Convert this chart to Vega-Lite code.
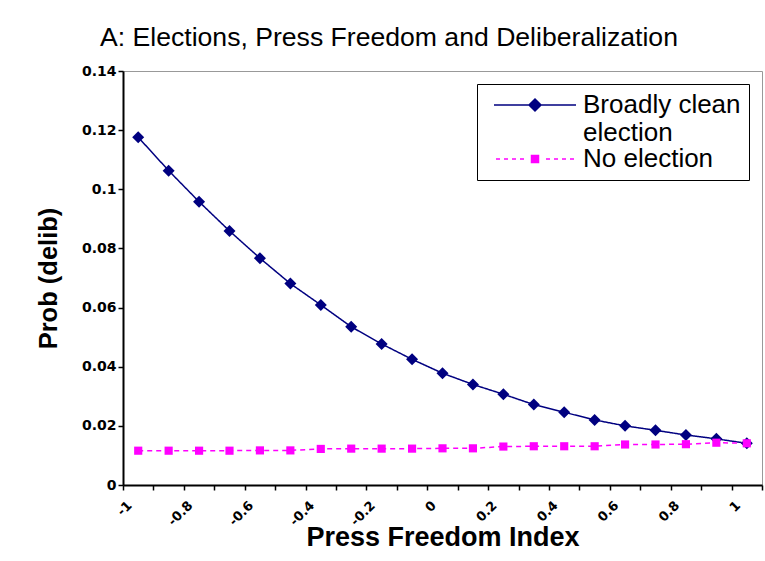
{
  "$schema": "https://vega.github.io/schema/vega-lite/v6.json",
  "width": 639,
  "height": 414,
  "autosize": {"type": "none"},
  "padding": {"left": 123, "top": 71, "right": 3, "bottom": 76},
  "background": "white",
  "config": {"view": {"stroke": "#999999", "strokeWidth": 1}},
  "title": {"text": "A: Elections, Press Freedom and Deliberalization", "anchor": "start", "frame": "group", "dx": -23, "offset": -9, "baseline": "alphabetic", "font": "Liberation Sans", "fontSize": 26.6, "fontWeight": "normal", "color": "black"},
  "data": {"values": [
    {"pf": -1, "series": "Broadly clean election", "prob": 0.1176},
    {"pf": -0.9, "series": "Broadly clean election", "prob": 0.1063},
    {"pf": -0.8, "series": "Broadly clean election", "prob": 0.0958},
    {"pf": -0.7, "series": "Broadly clean election", "prob": 0.0859},
    {"pf": -0.6, "series": "Broadly clean election", "prob": 0.0767},
    {"pf": -0.5, "series": "Broadly clean election", "prob": 0.0681},
    {"pf": -0.4, "series": "Broadly clean election", "prob": 0.0609},
    {"pf": -0.3, "series": "Broadly clean election", "prob": 0.0535},
    {"pf": -0.2, "series": "Broadly clean election", "prob": 0.0477},
    {"pf": -0.1, "series": "Broadly clean election", "prob": 0.0425},
    {"pf": 0, "series": "Broadly clean election", "prob": 0.0378},
    {"pf": 0.1, "series": "Broadly clean election", "prob": 0.0340},
    {"pf": 0.2, "series": "Broadly clean election", "prob": 0.0307},
    {"pf": 0.3, "series": "Broadly clean election", "prob": 0.0272},
    {"pf": 0.4, "series": "Broadly clean election", "prob": 0.0246},
    {"pf": 0.5, "series": "Broadly clean election", "prob": 0.0220},
    {"pf": 0.6, "series": "Broadly clean election", "prob": 0.0200},
    {"pf": 0.7, "series": "Broadly clean election", "prob": 0.0185},
    {"pf": 0.8, "series": "Broadly clean election", "prob": 0.0169},
    {"pf": 0.9, "series": "Broadly clean election", "prob": 0.0156},
    {"pf": 1, "series": "Broadly clean election", "prob": 0.0141},
    {"pf": -1, "series": "No election", "prob": 0.0116},
    {"pf": -0.9, "series": "No election", "prob": 0.0116},
    {"pf": -0.8, "series": "No election", "prob": 0.0116},
    {"pf": -0.7, "series": "No election", "prob": 0.0116},
    {"pf": -0.6, "series": "No election", "prob": 0.0117},
    {"pf": -0.5, "series": "No election", "prob": 0.0117},
    {"pf": -0.4, "series": "No election", "prob": 0.0122},
    {"pf": -0.3, "series": "No election", "prob": 0.0123},
    {"pf": -0.2, "series": "No election", "prob": 0.0123},
    {"pf": -0.1, "series": "No election", "prob": 0.0123},
    {"pf": 0, "series": "No election", "prob": 0.0124},
    {"pf": 0.1, "series": "No election", "prob": 0.0124},
    {"pf": 0.2, "series": "No election", "prob": 0.0130},
    {"pf": 0.3, "series": "No election", "prob": 0.0131},
    {"pf": 0.4, "series": "No election", "prob": 0.0131},
    {"pf": 0.5, "series": "No election", "prob": 0.0131},
    {"pf": 0.6, "series": "No election", "prob": 0.0137},
    {"pf": 0.7, "series": "No election", "prob": 0.0137},
    {"pf": 0.8, "series": "No election", "prob": 0.0138},
    {"pf": 0.9, "series": "No election", "prob": 0.0143},
    {"pf": 1, "series": "No election", "prob": 0.0141}
  ]},
  "encoding": {
    "x": {
      "field": "pf", "type": "ordinal",
      "scale": {"type": "band", "paddingInner": 0, "paddingOuter": 0},
      "axis": {
        "title": "Press Freedom Index", "titleFont": "Liberation Sans", "titleFontSize": 27, "titleFontWeight": "bold", "titleColor": "black", "titleY": 60, "titleBaseline": "alphabetic",
        "labelAngle": -45, "labelAlign": "right", "labelBaseline": "middle", "labelFont": "DejaVu Sans", "labelFontSize": 13, "labelFontWeight": "bold", "labelColor": "black", "labelPadding": 13, "labelOffset": -9, "labelOverlap": false,
        "labelExpr": "round(datum.value*10) % 2 == 0 ? datum.label : ''",
        "tickBand": "extent", "ticks": true, "tickSize": 5, "tickColor": "black", "tickWidth": 1.5,
        "domainColor": "black", "domainWidth": 2, "grid": false
      }
    },
    "y": {
      "field": "prob", "type": "quantitative",
      "scale": {"domain": [0, 0.14], "nice": false},
      "axis": {
        "values": [0, 0.02, 0.04, 0.06, 0.08, 0.1, 0.12, 0.14], "format": "~g",
        "title": "Prob (delib)", "titleFont": "Liberation Sans", "titleFontSize": 25.5, "titleFontWeight": "bold", "titleColor": "black", "titleX": -67, "titleY": 207, "titleAngle": 270, "titleAlign": "center", "titleBaseline": "alphabetic",
        "labelFont": "DejaVu Sans", "labelFontSize": 14, "labelFontWeight": "bold", "labelColor": "black", "labelPadding": 2,
        "tickSize": 5, "tickColor": "black", "tickWidth": 1.5, "domainColor": "black", "domainWidth": 2, "grid": false
      }
    }
  },
  "layer": [
    {
      "mark": {"type": "line", "strokeWidth": 1.5},
      "encoding": {
        "color": {"field": "series", "type": "nominal", "scale": {"range": ["#000080", "#ff00ff"]}, "legend": null},
        "strokeDash": {"field": "series", "type": "nominal", "scale": {"range": [[1, 0], [5, 4]]}, "legend": null}
      }
    },
    {
      "mark": {"type": "point", "filled": true, "opacity": 1, "size": 144},
      "encoding": {
        "color": {"field": "series", "type": "nominal", "scale": {"range": ["#000080", "#ff00ff"]}, "legend": null},
        "shape": {"field": "series", "type": "nominal", "scale": {"range": ["M-1,0L0,-1L1,0L0,1Z", "M-0.68,-0.68L0.68,-0.68L0.68,0.68L-0.68,0.68Z"]}, "legend": null}
      }
    },
    {
      "transform": [{"filter": "false"}],
      "mark": {"type": "point", "filled": true, "opacity": 1, "strokeWidth": 1.5},
      "encoding": {
        "fill": {"field": "series", "type": "nominal", "scale": {"domain": ["Broadly clean election", "No election"], "range": ["#000080", "#ff00ff"]}, "legend": {"orient": "none"}},
        "stroke": {"field": "series", "type": "nominal", "scale": {"domain": ["Broadly clean election", "No election"], "range": ["#000080", "#ff00ff"]}, "legend": {"orient": "none"}},
        "shape": {
          "field": "series", "type": "nominal",
          "scale": {"domain": ["Broadly clean election", "No election"], "range": [
            "M-4.1,0L4.1,0M0,-0.6L0.6,0L0,0.6L-0.6,0Z",
            "M-3.9,0L-3.5,0M-3.1,0L-2.7,0M-2.3,0L-1.9,0M-1.5,0L-1.1,0M-0.35,-0.35L0.35,-0.35L0.35,0.35L-0.35,0.35ZM1.1,0L1.5,0M1.9,0L2.3,0M2.7,0L3.1,0M3.5,0L3.9,0"
          ]},
          "legend": {
            "orient": "none", "legendX": 354, "legendY": 13, "title": null,
            "strokeColor": "black", "fillColor": "white", "padding": 8,
            "symbolSize": 400, "symbolOffset": 37, "labelOffset": 35, "symbolStrokeWidth": 1.5,
            "labelFont": "Liberation Sans", "labelFontSize": 26, "labelColor": "black", "labelLimit": 400, "rowPadding": 0,
            "labelExpr": "datum.label == 'Broadly clean election' ? ['Broadly clean', 'election'] : datum.label",
            "encode": {
              "labels": {
                "lineHeight": {"value": 30}
              }
            }
          }
        }
      }
    }
  ],
  "resolve": {"scale": {"shape": "independent", "fill": "independent", "stroke": "independent"}}
}
